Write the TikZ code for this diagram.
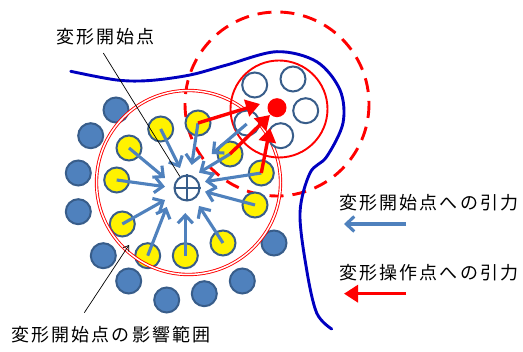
\documentclass[tikz,border=0pt]{standalone}
\usepackage{fontspec}
\setmainfont{Noto Sans CJK JP}[LetterSpace=12]
\usetikzlibrary{arrows.meta}
\definecolor{dotblue}{HTML}{4F81BD}
\definecolor{edgeblue}{HTML}{385D8A}
\tikzset{
  x=1pt,y=-1pt,
  ball/.style={circle,draw=edgeblue,line width=2pt,minimum size=25pt,inner sep=0pt},
  bluedot/.style={ball,fill=dotblue},
  yellowdot/.style={ball,fill=yellow},
  whitedot/.style={ball,fill=white},
  label/.style={font=\fontsize{18}{20}\selectfont,inner sep=0pt,anchor=west},
  pullblue/.style={draw=dotblue,line width=3.1pt,-{Straight Barb[length=8pt,width=15pt,line width=3.1pt]}},
  pullred/.style={draw=red,line width=3.4pt,-{Triangle[length=14pt,width=17pt]}},
  leader/.style={draw=black,line width=0.7pt},
}
\begin{document}
\begin{tikzpicture}
\useasboundingbox (0,0) rectangle (523,352);
% dashed reach of the operating point
\draw[red,line width=2.9pt,dash pattern=on 14pt off 9pt] (277,104) circle[radius=92];
% skin outline
\draw[draw={rgb,255:red,0;green,0;blue,192},line width=2.9pt,line cap=round] plot[smooth,tension=0.55] coordinates {
 (70.7,71.3) (116.7,80) (150,80.5) (190,75) (226.7,65) (276.7,51.7) (316.7,61.7) (340,90) (343,123)
 (326.7,156.7) (310,173) (300,213) (306.7,270) (316.7,313) (331.7,329)};
% outer blue dots
\foreach \n/\p in {1/{116,110},2/{90.7,135.7},3/{78.3,173},4/{78.3,211.7},5/{103.3,255.7},6/{128.7,281},7/{166.7,300},8/{204.3,293.7},9/{242.3,281},10/{274,243}}
  \node[bluedot] (b\n) at (\p) {};
% yellow dots
\foreach \n/\p in {1/{198,123},2/{160.7,129},3/{129,148},4/{116.7,180},5/{122.3,224},6/{147.7,255.7},7/{185.3,255.7},8/{223,243},9/{255,205},10/{261.3,173},11/{230,154}}
  \node[yellowdot] (y\n) at (\p) {};
% influence ranges
\node[circle,draw=red,line width=0.9pt,double=white,double distance=1.5pt,minimum size=184pt,inner sep=0pt] (range) at (188.5,182.5) {};
\node[circle,draw=red,line width=1.9pt,minimum size=97pt,inner sep=0pt] (oprange) at (279,109) {};
% white dots and operating point
\foreach \n/\p in {1/{254.7,85},2/{293,79},3/{305.7,110.7},4/{280.7,135.7},5/{246.7,123}}
  \node[whitedot] (w\n) at (\p) {};
\node[circle,fill=red,minimum size=19pt,inner sep=0pt] (op) at (277,107.7) {};
% start point
\node[circle,draw=edgeblue,line width=2pt,fill=white,minimum size=25pt,inner sep=0pt] (start) at (187,188) {};
\draw[edgeblue,line width=1.8pt] (start.north)--(start.south) (start.west)--(start.east);
% tip coordinates
\coordinate (t1) at (191.7,165);
\coordinate (t2) at (180,168);
\coordinate (t3) at (165,178);
\coordinate (t4) at (165,186.7);
\coordinate (t5) at (165,200);
\coordinate (t6) at (166.7,207);
\coordinate (t7) at (185.3,213);
\coordinate (t8) at (199,206);
\coordinate (t9) at (205,191.7);
\coordinate (t10) at (205,181.7);
\coordinate (t11) at (199,172.7);
\coordinate (t12) at (211.7,154);
% pull toward the start point
\foreach \n in {1,...,11}
  \draw[pullblue] (y\n.center) -- (t\n);
\draw[pullblue] (w5.center) ++(0,1) -- (t12);
% pull toward the operating point
\coordinate (r1) at (260,104);
\coordinate (r2) at (270,115);
\coordinate (r3) at (270,128);
\draw[pullred] (y1.center) -- (r1);
\draw[pullred] (y11.center) -- (r2);
\draw[pullred] (y10.center) -- (r3);
% texts and leaders
\node[label] (t-start) at (56,37) {変形開始点};
\node[label] (t-range) at (11,335) {変形開始点の影響範囲};
\node[label] (t-pullstart) at (339,203) {変形開始点への引力};
\node[label] (t-pullop) at (339,272.5) {変形操作点への引力};
\coordinate (l1) at (103.3,53);
\coordinate (l2) at (84.3,312.7);
\coordinate (l3) at (129,245);
\draw[leader] (l1) -- (start);
\draw[leader,-{Straight Barb[length=5pt,width=7pt]}] (l2) -- (l3);
% legend arrows
\coordinate (a1) at (406,224);
\coordinate (a2) at (344,224);
\coordinate (a3) at (406,293.7);
\coordinate (a4) at (344,293.7);
\draw[pullblue] (a1) -- (a2);
\draw[pullred] (a3) -- (a4);
\end{tikzpicture}
\end{document}
